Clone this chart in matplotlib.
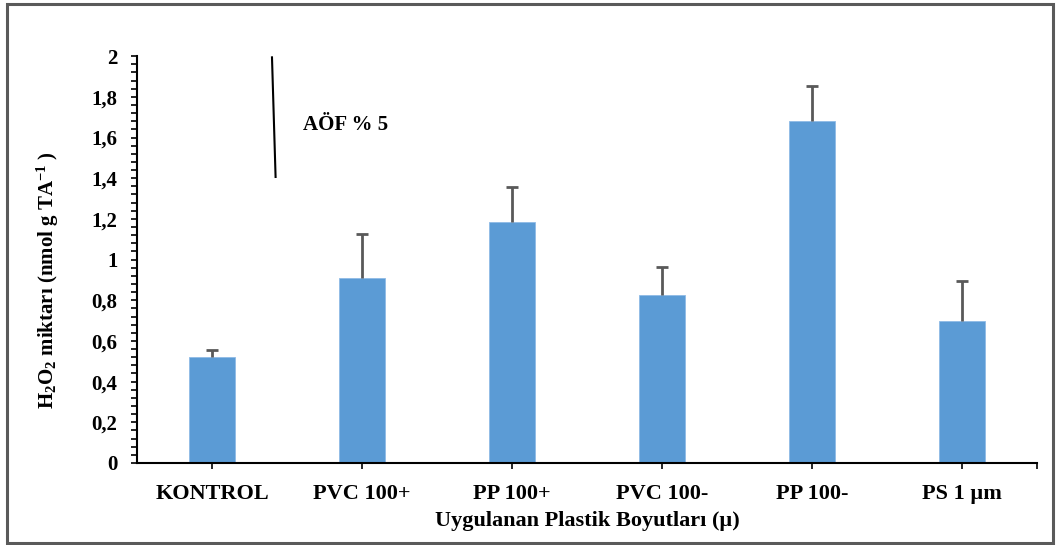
import matplotlib
matplotlib.use('Agg')
import matplotlib.pyplot as plt
from matplotlib.ticker import MultipleLocator, FuncFormatter, FixedLocator
from matplotlib.patches import Rectangle
from matplotlib.lines import Line2D
import numpy as np

# data
categories = ['KONTROL', 'PVC 100+', 'PP 100+', 'PVC 100-', 'PP 100-', 'PS 1 µm']
h2o2_values = [0.52, 0.91, 1.185, 0.825, 1.68, 0.70]
h2o2_err = [0.035, 0.215, 0.17, 0.14, 0.175, 0.195]

plt.rcParams['font.family'] = ['Liberation Serif', 'DejaVu Serif']
plt.rcParams['font.weight'] = 'bold'
plt.rcParams['mathtext.fontset'] = 'custom'
plt.rcParams['mathtext.rm'] = 'Liberation Serif:bold'
plt.rcParams['mathtext.default'] = 'rm'

fig = plt.figure(figsize=(10.58, 5.45), dpi=100)
ax = fig.add_axes([0.1295, 0.1505, 0.8505, 0.7465])

x = np.arange(len(categories))
ax.bar(x, h2o2_values, width=0.31, color='#5B9BD5', edgecolor='#8fbbe6', linewidth=0.6, zorder=2)
eb = ax.errorbar(x, h2o2_values, yerr=[np.zeros(len(x)), h2o2_err], fmt='none',
                 ecolor='#595959', elinewidth=2, capsize=4, capthick=2, zorder=3)
# only the upper cap is shown in the original
eb[1][0].set_visible(False)

ax.set_xlim(-0.5, 5.5)
ax.set_ylim(0, 2)
ax.yaxis.set_major_locator(MultipleLocator(0.2))
ax.yaxis.set_minor_locator(MultipleLocator(0.04))
ax.yaxis.set_major_formatter(FuncFormatter(lambda v, p: f'{v:g}'.replace('.', ',')))
ax.set_xticks(x)
ax.set_xticklabels(categories, fontsize=16, fontweight='bold')
ax.xaxis.set_minor_locator(FixedLocator([5.5]))

for s in ['top', 'right']:
    ax.spines[s].set_visible(False)
for s in ['left', 'bottom']:
    ax.spines[s].set_linewidth(1.5)
    ax.spines[s].set_color('black')

ax.tick_params(axis='y', which='both', direction='out', length=4, width=1.2, labelsize=15, pad=10)
ax.tick_params(axis='x', which='both', direction='out', length=4, width=1.2, pad=11)

ax.set_xlabel('Uygulanan Plastik Boyutları (µ)', fontsize=16, fontweight='bold', labelpad=5)
ax.set_ylabel(r'H$_2$O$_2$ miktarı (nmol g TA$^{-1}$ )', fontsize=15, fontweight='bold')
ax.yaxis.set_label_coords(-0.084, 0.45)

# annotation line and text
ax.add_line(Line2D([0.150, 0.154], [0.997, 0.703], transform=ax.transAxes,
                   color='black', linewidth=1.5, clip_on=False))
ax.text(0.184, 0.83, 'AÖF % 5', transform=ax.transAxes, fontsize=15,
        fontweight='bold', va='center', ha='left')

# outer frame
fig.patches.append(Rectangle((0.0066, 0.0037), 0.9887, 0.989, transform=fig.transFigure,
                             fill=False, edgecolor='#5a5a5a', linewidth=2.2))

fig.savefig('out.png', dpi=100)
